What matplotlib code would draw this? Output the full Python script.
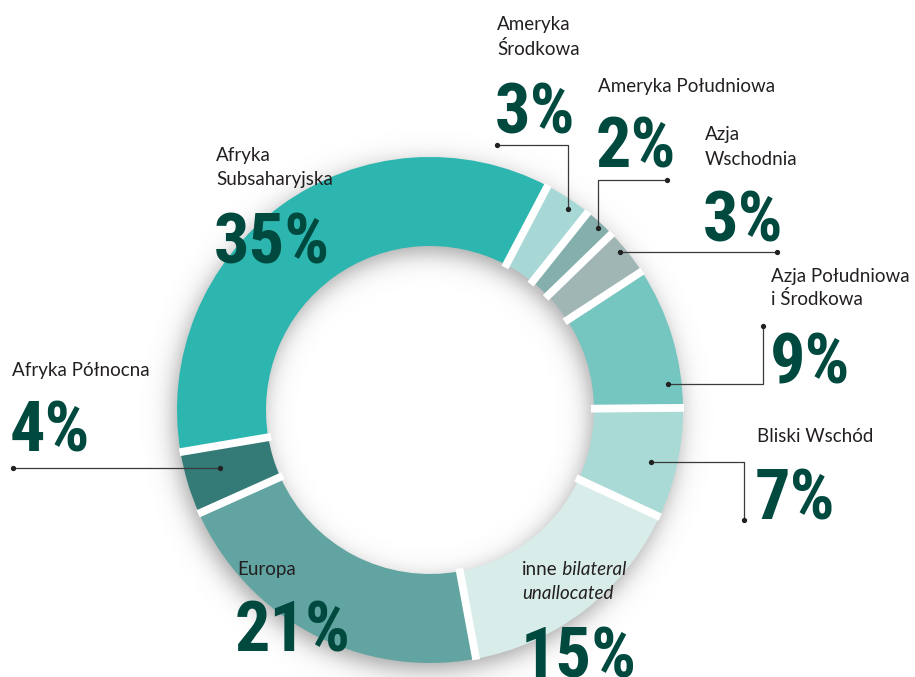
import numpy as np
import matplotlib
matplotlib.use("Agg")
import matplotlib.pyplot as plt
from matplotlib import font_manager

# slices, in drawing order (clockwise from the top-right)
regions = ["Ameryka Środkowa", "Ameryka Południowa", "Azja Wschodnia",
           "Azja Południowa i Środkowa", "Bliski Wschód",
           "inne bilateral unallocated", "Europa", "Afryka Północna",
           "Afryka Subsaharyjska"]
shares = [3, 2, 3, 9, 7, 15, 21, 4, 35]
colors = ["#a8d8d5", "#84afac", "#9fb6b4", "#75c5c0", "#a9dad6",
          "#d8ecea", "#62a4a1", "#347a76", "#2cb6af"]

W, H = 915, 677
cx, cy = 430, 410          # ring centre (pixels, y down)
r_out, r_in = 253, 164
start = -62.3              # y axis is inverted, so this is 62.3 deg visually

NUM_COLOR = "#00493f"
TXT_COLOR = "#231f20"
LINE_COLOR = "#3a3a3a"

# the big numbers use a narrow face if one is installed
available = {f.name for f in font_manager.fontManager.ttflist}
narrow = [n for n in ["Roboto Condensed", "Liberation Sans Narrow",
                      "DejaVu Sans Condensed", "Open Sans Condensed"]
          if n in available]
num_family = narrow[:1] + ["DejaVu Sans"]

fig = plt.figure(figsize=(W / 100, H / 100), dpi=100)
ax = fig.add_axes([0, 0, 1, 1])

# soft shadow under the ring
yy, xx = np.mgrid[0:H, 0:W] + 0.5
rr = np.hypot(xx - (cx - 3), yy - (cy + 7))
sd = np.maximum(rr - r_out, r_in - rr)
alpha = 0.55 / (1 + np.exp(sd / 7.0))
shadow = np.zeros((H, W, 4))
shadow[..., :3] = 0.35
shadow[..., 3] = alpha
ax.imshow(shadow, extent=(0, W, H, 0), origin="upper", zorder=0,
          interpolation="bilinear")

ax.pie(shares, colors=colors, radius=r_out, center=(cx, cy),
       startangle=start, counterclock=True,
       wedgeprops=dict(width=r_out - r_in, linewidth=0), normalize=True)

# white gaps between slices
bounds = start + 360 * np.cumsum([0] + shares[:-1]) / sum(shares)
for a in np.radians(bounds):
    ax.plot([cx + (r_in - 3) * np.cos(a), cx + (r_out + 1) * np.cos(a)],
            [cy + (r_in - 3) * np.sin(a), cy + (r_out + 1) * np.sin(a)],
            color="white", lw=5.6, solid_capstyle="butt", zorder=3)

lab_font = dict(family=["Lato", "DejaVu Sans"], fontsize=13.5,
                color=TXT_COLOR, va="baseline", ha="left", zorder=5)
num_font = dict(family=num_family, fontweight="bold", fontstretch="condensed",
                fontsize=60, color=NUM_COLOR, va="baseline", ha="left",
                zorder=5)

# label lines: (text, x, baseline) per slice, then number position
label_lines = [
    [("Ameryka", 497, 30), ("Środkowa", 497, 55)],
    [("Ameryka Południowa", 598, 92)],
    [("Azja", 705, 140), ("Wschodnia", 705, 165)],
    [("Azja Południowa", 771, 282), ("i Środkowa", 771, 305)],
    [("Bliski Wschód", 757, 442)],
    [],
    [("Europa", 237, 575)],
    [("Afryka Północna", 12, 376)],
    [("Afryka", 216, 161), ("Subsaharyjska", 216, 185)],
]
num_pos = [(495, 133), (596, 168), (703, 242), (770, 383), (755, 519),
           (521, 677), (235, 652), (10, 452), (214, 263)]

num_texts = []
for lines, (nx, ny), v in zip(label_lines, num_pos, shares):
    for txt, x, y in lines:
        ax.text(x, y, txt, **lab_font)
    num_texts.append(ax.text(nx, ny, f"{v}%", **num_font))

# mixed style label for the unallocated slice
t = ax.text(522, 575, "inne", **lab_font)
ax.annotate(" bilateral", xy=(1, 0), xycoords=t, va="bottom", ha="left",
            family=["Lato", "DejaVu Sans"], fontsize=13.5, style="italic",
            color=TXT_COLOR, zorder=5)
ax.text(522, 599, "unallocated", style="italic", **lab_font)

# leader lines
leaders = [
    [(497, 145), (568, 145), (568, 209)],
    [(667, 180), (598, 180), (598, 228)],
    [(620, 252), (777, 252)],
    [(668, 384), (763, 384), (763, 326)],
    [(651, 462), (744, 462), (744, 520)],
    [(13, 468), (220, 468)],
]
for pts in leaders:
    xs, ys = zip(*pts)
    ax.plot(xs, ys, color=LINE_COLOR, lw=0.9, zorder=4)
    ax.plot([xs[0], xs[-1]], [ys[0], ys[-1]], "o", color="#222222",
            ms=2.8, zorder=4)

ax.set_aspect("auto")
ax.set_xlim(0, W)
ax.set_ylim(H, 0)
ax.axis("off")

# keep the numbers about as wide as in the original ("35%" ~ 115 px)
renderer = fig.canvas.get_renderer()
w35 = num_texts[-1].get_window_extent(renderer).width
size = 60 * min(1.0, 116 / w35)
for nt in num_texts:
    nt.set_fontsize(size)

fig.savefig("out.png", dpi=100, facecolor="white")
